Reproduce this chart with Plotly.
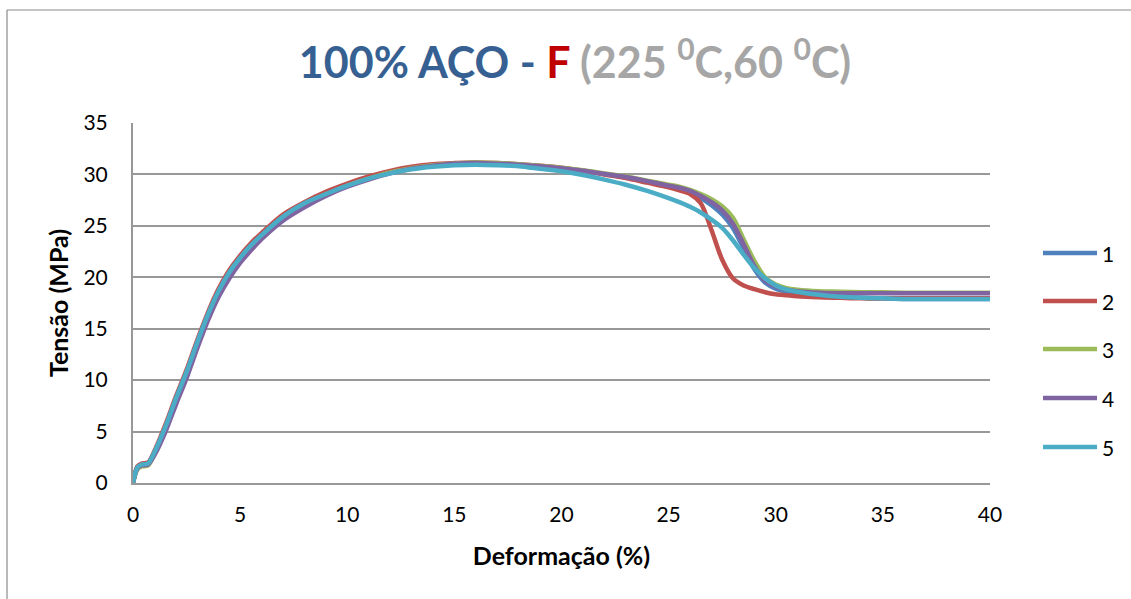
import plotly.graph_objects as go

# Strain (%) sampling shared by all specimens
deformacao = [0, 0.2, 0.4, 0.7, 1.0, 1.5, 2.0, 2.5, 3.0, 3.5, 4.0, 4.5, 5.0,
              5.5, 6, 7, 8, 9, 10, 11, 12, 13, 14, 15, 16, 17, 18, 19, 20, 21,
              22, 23, 24, 25, 25.5, 26, 26.5, 27, 27.5, 28, 28.5, 29, 29.5, 30,
              30.5, 31, 32, 33, 34, 35, 36, 37, 38, 39, 40]

# Stress (MPa) for each specimen
tensao_1 = [0, 1.5, 1.8, 1.9, 2.9, 5.2, 8.0, 10.6, 13.5, 16.2, 18.5, 20.3, 21.7,
            22.9, 23.9, 25.7, 27.0, 28.0, 28.9, 29.6, 30.2, 30.6, 30.9, 31.05,
            31.1, 31.05, 30.95, 30.8, 30.6, 30.35, 30.05, 29.7, 29.25, 28.8,
            28.55, 28.2, 27.7, 27.0, 26.1, 24.8, 22.8, 20.8, 19.5, 18.9, 18.6,
            18.4, 18.2, 18.1, 18.0, 17.95, 17.9, 17.9, 17.9, 17.9, 17.9]
tensao_2 = [0, 1.6, 1.9, 2.0, 3.1, 5.6, 8.4, 11.0, 13.9, 16.6, 18.9, 20.7, 22.1,
            23.3, 24.3, 26.1, 27.3, 28.3, 29.1, 29.8, 30.35, 30.75, 31.0, 31.1,
            31.15, 31.1, 31.0, 30.85, 30.65, 30.35, 30.0, 29.65, 29.2, 28.75,
            28.45, 28.1, 27.2, 24.6, 21.7, 19.9, 19.2, 18.85, 18.55, 18.35,
            18.25, 18.15, 18.05, 18.0, 17.95, 17.95, 17.95, 17.95, 17.95, 17.95,
            17.95]
tensao_3 = [0, 1.3, 1.6, 1.7, 2.8, 5.2, 8.0, 10.6, 13.5, 16.2, 18.5, 20.3, 21.7,
            22.9, 23.9, 25.7, 27.0, 28.0, 28.9, 29.6, 30.2, 30.6, 30.9, 31.05,
            31.15, 31.1, 31.0, 30.85, 30.65, 30.4, 30.1, 29.8, 29.4, 29.0, 28.8,
            28.5, 28.1, 27.6, 26.9, 25.8, 23.7, 21.6, 20.0, 19.3, 18.95, 18.8,
            18.65, 18.6, 18.55, 18.55, 18.5, 18.5, 18.5, 18.5, 18.5]
tensao_4 = [0, 1.4, 1.7, 1.8, 2.7, 4.9, 7.6, 10.2, 13.1, 15.8, 18.1, 19.9, 21.4,
            22.6, 23.7, 25.5, 26.8, 27.9, 28.8, 29.5, 30.1, 30.55, 30.85, 31.05,
            31.1, 31.05, 30.95, 30.8, 30.6, 30.35, 30.05, 29.75, 29.35, 28.9,
            28.7, 28.4, 27.9, 27.3, 26.5, 25.2, 23.2, 21.1, 19.7, 19.1, 18.8,
            18.65, 18.5, 18.45, 18.45, 18.45, 18.45, 18.45, 18.45, 18.45, 18.45]
tensao_5 = [0, 1.5, 1.8, 1.9, 3.0, 5.4, 8.2, 10.8, 13.7, 16.4, 18.7, 20.5, 21.9,
            23.1, 24.1, 25.9, 27.2, 28.1, 28.9, 29.6, 30.1, 30.5, 30.75, 30.9,
            30.95, 30.9, 30.8, 30.55, 30.3, 29.95, 29.5, 29.0, 28.4, 27.7, 27.3,
            26.85, 26.3, 25.6, 24.8, 23.6, 22.2, 20.9, 19.9, 19.2, 18.8, 18.6,
            18.3, 18.1, 18.0, 17.95, 17.9, 17.9, 17.9, 17.9, 17.9]

nomes = ["1", "2", "3", "4", "5"]
cores = ["#4F81BD", "#C0504D", "#9BBB59", "#8064A2", "#4BACC6"]
series = [tensao_1, tensao_2, tensao_3, tensao_4, tensao_5]

x_ticks = [0, 5, 10, 15, 20, 25, 30, 35, 40]
y_ticks = [0, 5, 10, 15, 20, 25, 30, 35]

FONT = "Lato"
GRID = "#989898"

fig = go.Figure()
for nome, cor, ys in zip(nomes, cores, series):
    fig.add_trace(go.Scatter(
        x=deformacao, y=ys, name=nome, mode="lines",
        line=dict(color=cor, width=4.5, shape="spline", smoothing=0.8),
        showlegend=False,
    ))

# Plot-area geometry (pixels) used to place the legend in paper units
L, R, T, B = 133, 990, 123, 483
W, H = R - L, B - T


def px_x(px):
    return (px - L) / W


def px_y(py):
    return (B - py) / H


shapes = []
annotations = []
legend_rows = [253, 301, 349, 398, 447]
for nome, cor, row in zip(nomes, cores, legend_rows):
    shapes.append(dict(type="line", xref="paper", yref="paper",
                       x0=px_x(1043), x1=px_x(1097), y0=px_y(row), y1=px_y(row),
                       line=dict(color=cor, width=4.5)))
    annotations.append(dict(xref="paper", yref="paper", x=px_x(1100), y=px_y(row),
                            text=nome, showarrow=False, xanchor="left",
                            yanchor="middle",
                            font=dict(family=FONT, size=21, color="#000000")))

# Outer chart frame (left and top edges)
shapes.append(dict(type="line", xref="paper", yref="paper",
                   x0=px_x(7), x1=px_x(7), y0=px_y(620), y1=px_y(10),
                   line=dict(color="#8a8a8a", width=1.2)))
shapes.append(dict(type="line", xref="paper", yref="paper",
                   x0=px_x(7), x1=px_x(1150), y0=px_y(10), y1=px_y(10),
                   line=dict(color="#8a8a8a", width=1.2)))

titulo = ("<span style='color:#376092'>100% AÇO - </span>"
          "<span style='color:#C00000'>F </span>"
          "<span style='color:#A6A6A6'>(225 <sup>0</sup>C,60 <sup>0</sup>C)</span>")

fig.update_layout(
    width=1131, height=599,
    margin=dict(l=L, r=1131 - R, t=T, b=599 - B),
    paper_bgcolor="white", plot_bgcolor="white",
    font=dict(family=FONT, size=21, color="#000000"),
    title=dict(text=titulo, x=575 / 1131, xanchor="center",
               y=1 - 63 / 599, yanchor="middle",
               font=dict(family=FONT, size=43, weight="bold")),
    xaxis=dict(range=[0, 40], tickvals=x_ticks, showgrid=False, zeroline=False,
               showline=True, linecolor=GRID, linewidth=2, ticks="",
               ticklabelstandoff=12,
               title=dict(text="<b>Deformação (%)</b>", standoff=22,
                          font=dict(family=FONT, size=25))),
    yaxis=dict(range=[0, 35], tickvals=y_ticks, showgrid=True, gridcolor=GRID,
               gridwidth=2, zeroline=False, showline=True, linecolor=GRID,
               linewidth=2, ticks="", ticklabelstandoff=19,
               title=dict(text="<b>Tensão (MPa)</b>", standoff=8,
                          font=dict(family=FONT, size=25))),
    shapes=shapes,
    annotations=annotations,
)

fig.write_html("out.html")
